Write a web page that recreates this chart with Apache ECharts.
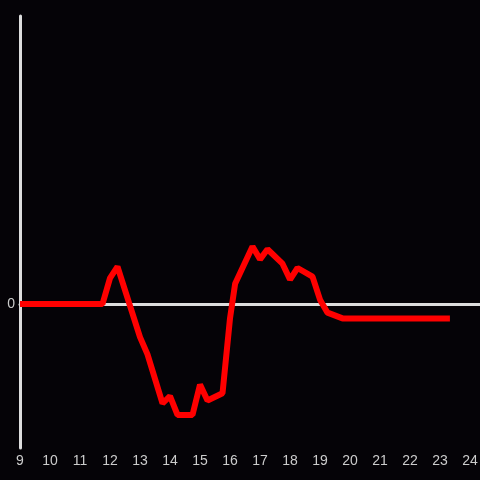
<!DOCTYPE html>
<html>
<head>
<meta charset="utf-8">
<script src="https://cdn.jsdelivr.net/npm/echarts@6/dist/echarts.min.js"></script>
<style>
  html, body { margin: 0; padding: 0; background: #050307; }
  #chart { width: 480px; height: 480px; }
</style>
</head>
<body>
<div id="chart"></div>
<script>
// hours of day
const hours = [9, 11.75, 12, 12.25, 13, 13.25, 13.75, 14, 14.25, 14.75, 15, 15.25, 15.75, 16, 16.17, 16.75, 17, 17.25, 17.75, 18, 18.25, 18.75, 19, 19.25, 19.75, 23.33]
const values = [0, 0, 0.18, 0.26, -0.23, -0.35, -0.69, -0.64, -0.77, -0.77, -0.56, -0.67, -0.62, -0.1, 0.14, 0.4, 0.31, 0.38, 0.28, 0.17, 0.25, 0.19, 0.03, -0.06, -0.1, -0.1]
const yTickLabels = ['0']

const seriesData = hours.map((h, i) => [h, values[i]])

const myChart = echarts.init(document.getElementById('chart'))
myChart.setOption({
  backgroundColor: '#050307',
  animation: false,
  grid: { left: 20, right: 0, top: 16, bottom: 32, outerBoundsMode: 'none' },
  xAxis: [
    {
      type: 'value',
      min: 9,
      max: 24.333,
      interval: 1,
      axisLine: { onZero: false, show: false },
      axisTick: { show: false },
      splitLine: { show: false },
      axisLabel: {
        color: '#cccccc',
        fontSize: 14,
        margin: 6,
        formatter: v => (Number.isInteger(v) ? String(v) : '')
      }
    },
    {
      // axis line drawn through zero
      type: 'value',
      min: 9,
      max: 24.333,
      position: 'bottom',
      axisLine: { onZero: true, lineStyle: { color: '#dddddd', width: 3 } },
      axisTick: { show: false },
      axisLabel: { show: false },
      splitLine: { show: false }
    }
  ],
  yAxis: {
    type: 'value',
    min: -1,
    max: 2,
    interval: 1,
    axisLine: { show: true, lineStyle: { color: '#dddddd', width: 3 } },
    axisTick: { show: false },
    splitLine: { show: false },
    axisLabel: {
      color: '#cccccc',
      fontSize: 14,
      margin: 5,
      formatter: v => (yTickLabels.includes(String(v)) ? String(v) : '')
    }
  },
  series: [{
    type: 'line',
    data: seriesData,
    showSymbol: false,
    lineStyle: { color: '#ff0000', width: 6 },
    z: 5
  }]
})
</script>
</body>
</html>
